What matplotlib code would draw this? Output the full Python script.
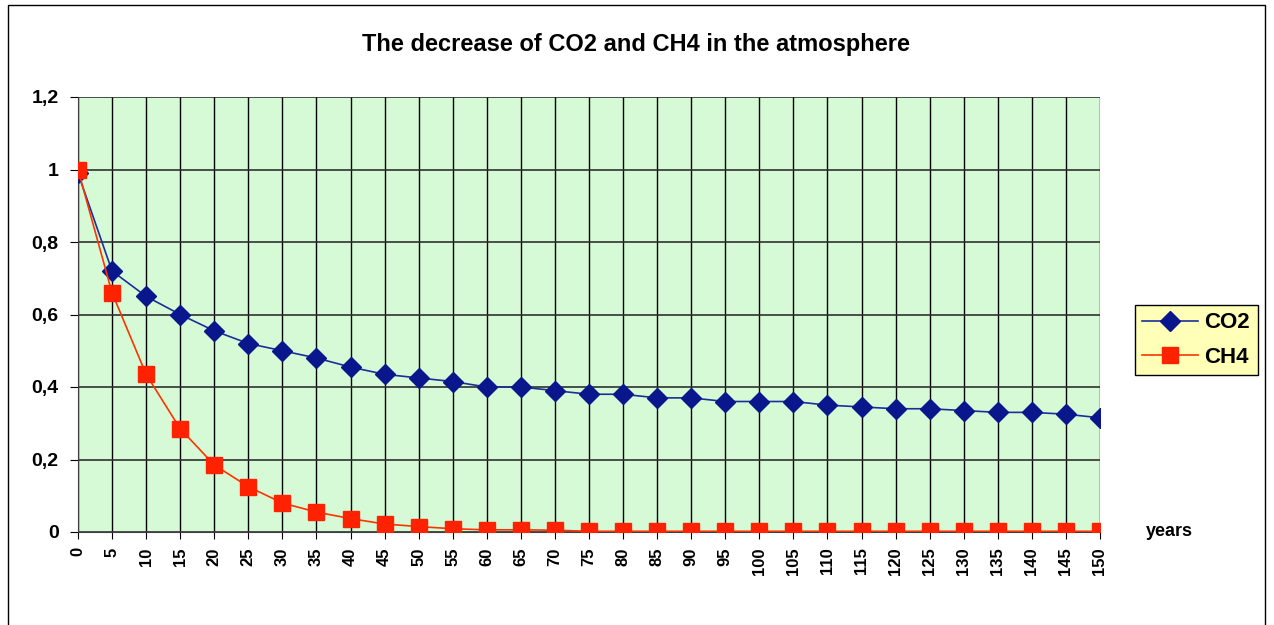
import numpy as np
import matplotlib.pyplot as plt
from matplotlib.patches import Rectangle

plt.rcParams['font.family'] = ['Liberation Sans', 'DejaVu Sans']

# --- data ---
years = list(range(0, 151, 5))
co2 = [0.99, 0.72, 0.65, 0.60, 0.555, 0.52, 0.50, 0.48, 0.455, 0.435,
       0.425, 0.415, 0.40, 0.40, 0.39, 0.38, 0.38, 0.37, 0.37, 0.36,
       0.36, 0.36, 0.35, 0.345, 0.34, 0.34, 0.335, 0.33, 0.33, 0.325, 0.315]
ch4 = [1.0, 0.66, 0.435, 0.285, 0.185, 0.125, 0.08, 0.055, 0.037, 0.022,
       0.015, 0.009, 0.006, 0.006, 0.005, 0.002, 0.002, 0.002, 0.002, 0.002,
       0.002, 0.002, 0.002, 0.002, 0.002, 0.002, 0.002, 0.002, 0.002, 0.002, 0.002]

fig = plt.figure(figsize=(12.74, 6.25), dpi=100)
ax = fig.add_axes([0.0612, 0.1488, 0.8022, 0.696])

ax.set_facecolor('#D5FAD5')
ax.plot(years, co2, color='#1A2F9A', lw=1.2, marker='D', markersize=10,
        markerfacecolor='#0A168C', markeredgecolor='#0A168C', label='CO2', zorder=3)
ax.plot(years, ch4, color='#FF3300', lw=1.2, marker='s', markersize=11,
        markerfacecolor='#FF2200', markeredgecolor='#FF2200', label='CH4', zorder=3)

ax.set_xlim(0, 150)
ax.set_ylim(0, 1.2)
ax.set_xticks(years)
ax.set_xticklabels([str(y) for y in years], rotation=90, fontsize=12, fontweight='bold')
ax.set_yticks([0, 0.2, 0.4, 0.6, 0.8, 1.0, 1.2])
ax.set_yticklabels(['0', '0,2', '0,4', '0,6', '0,8', '1', '1,2'], fontsize=14, fontweight='bold')
ax.tick_params(axis='x', length=5, pad=6, color='black')
ax.tick_params(axis='y', length=6, pad=8, color='black')
ax.grid(axis='x', color='black', lw=1.0)
ax.grid(axis='y', color='#303030', lw=1.2)
ax.set_axisbelow(True)
for s in ['top', 'right']:
    ax.spines[s].set_visible(False)
ax.spines['left'].set_color('#404040')
ax.spines['bottom'].set_color('#404040')

fig.text(0.499, 0.929, 'The decrease of CO2 and CH4 in the atmosphere', fontsize=17,
         fontweight='bold', ha='center', va='center')
fig.text(0.918, 0.149, 'years', fontsize=13, fontweight='bold', ha='center', va='center')

leg = fig.legend(loc='center', bbox_to_anchor=(0.939, 0.456),
                 prop={'weight': 'bold', 'size': 16}, frameon=True, fancybox=False,
                 handlelength=2.5, borderpad=0.35, labelspacing=0.6, handletextpad=0.3)
leg.get_frame().set_facecolor('#FFFFB8')
leg.get_frame().set_edgecolor('black')
leg.get_frame().set_alpha(1)

fig.patches.append(Rectangle((0.006, -0.02), 0.987, 1.012, transform=fig.transFigure,
                             fill=False, edgecolor='black', lw=1.0))

fig.savefig('out.png', dpi=100)
